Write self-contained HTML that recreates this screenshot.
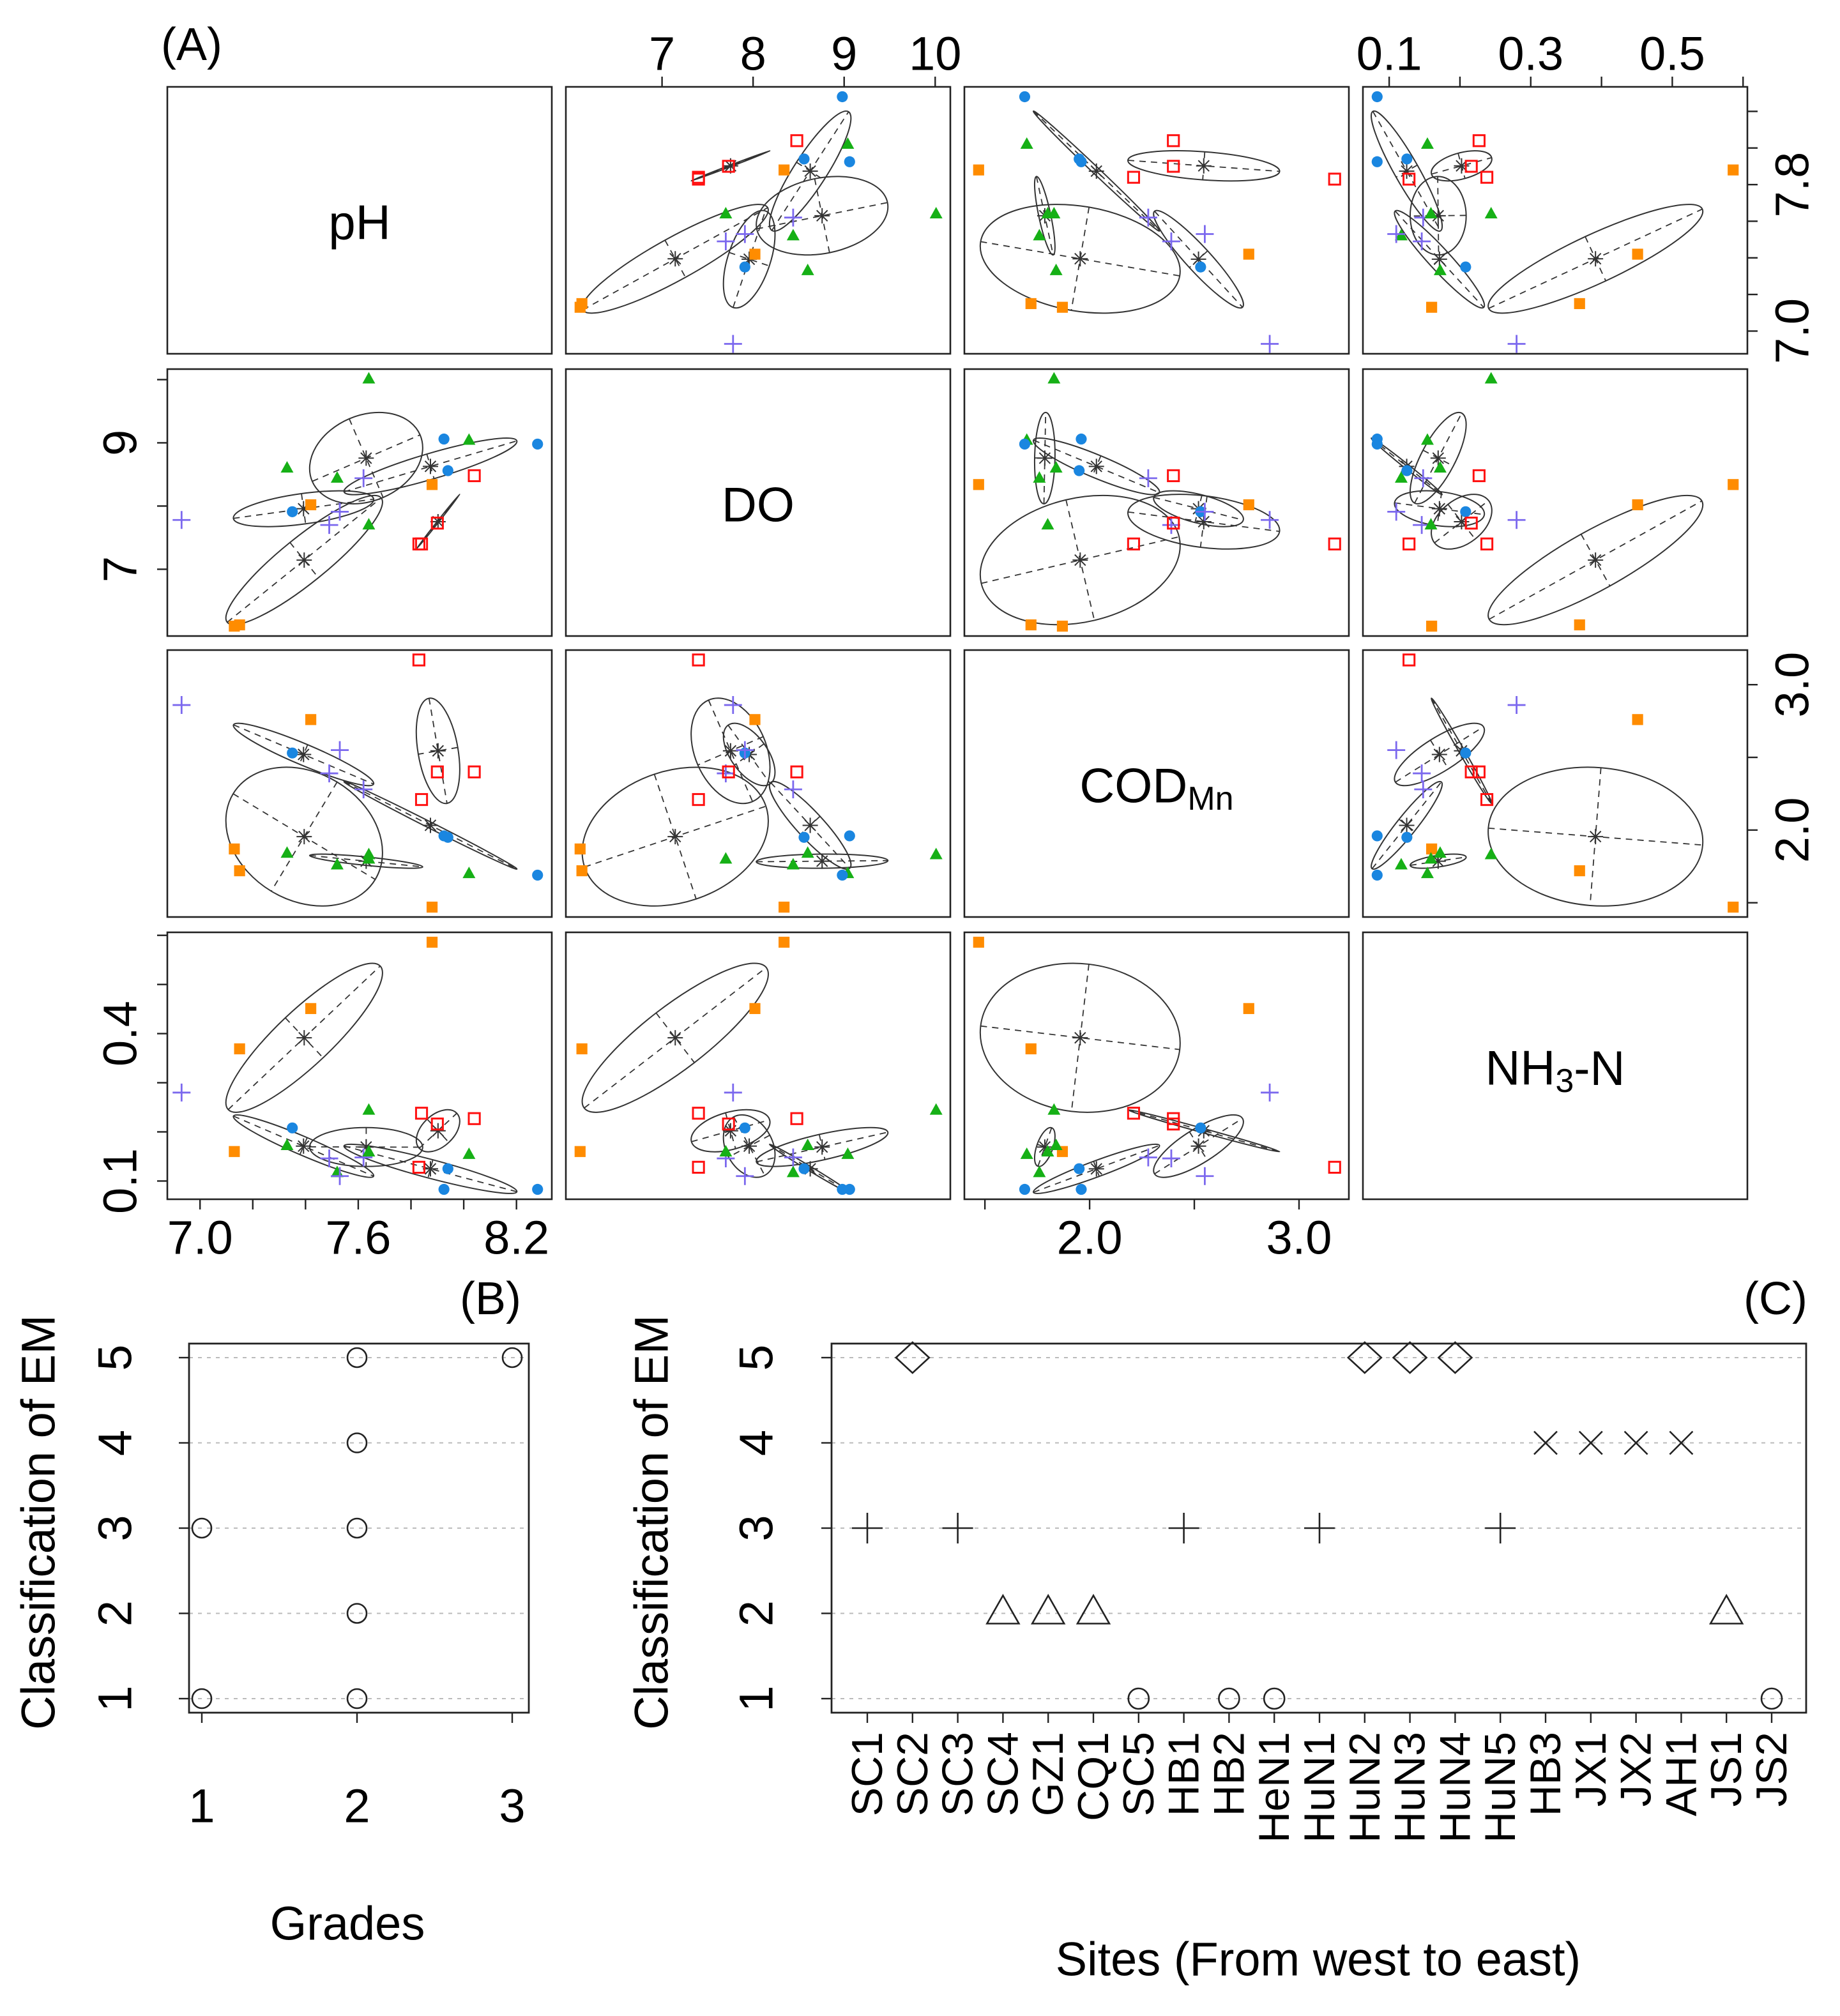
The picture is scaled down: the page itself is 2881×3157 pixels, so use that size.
<!DOCTYPE html>
<html><head><meta charset="utf-8"><title>Water quality pairs plot with EM classification</title>
<style>
html,body{margin:0;padding:0;background:#fff;}
svg{display:block;font-family:"Liberation Sans",Arial,sans-serif;}
</style></head>
<body>
<svg id="fig" xmlns="http://www.w3.org/2000/svg" width="2881" height="3157" viewBox="0 0 1440.5 1578.5">
<rect x="0" y="0" width="1440.5" height="1578.5" fill="#fff"/>
<text x="150" y="35" font-size="36" text-anchor="middle" dominant-baseline="central">(A)</text>
<text x="384" y="1017" font-size="36" text-anchor="middle" dominant-baseline="central">(B)</text>
<text x="1390" y="1017" font-size="36" text-anchor="middle" dominant-baseline="central">(C)</text>
</svg>
<script>
// ---- Panel A data (21 sites) ----
const phVals  = [6.93,7.13,7.15,7.33,7.35,7.42,7.49,7.52,7.53,7.62,7.64,7.64,7.83,7.84,7.88,7.90,7.925,7.94,8.02,8.04,8.28];
const doVals  = [7.78,6.10,6.12,8.60,7.91,8.02,7.70,8.44,7.91,8.44,10.01,7.70,7.40,7.40,8.34,7.73,9.06,8.56,9.04,8.48,8.98];
const codVals = [2.86,1.87,1.72,1.84,2.53,2.76,2.39,1.76,2.55,2.28,1.83,1.80,3.17,2.21,1.47,2.40,1.96,1.95,1.70,2.40,1.69];
const nh3Vals = [0.280,0.160,0.369,0.172,0.208,0.451,0.146,0.117,0.110,0.148,0.244,0.159,0.128,0.238,0.586,0.216,0.083,0.125,0.154,0.227,0.083];
const siteGroups = ['purple','orange','orange','green','blue','orange','purple','green','purple','purple','green','green','red','red','orange','red','blue','blue','green','red','blue'];
const phTicks = [7.0,7.2,7.4,7.6,7.8,8.0,8.2];
const doTicks = [7,8,9,10];
const codTicks = [1.5,2.0,2.5,3.0];
const nh3Ticks = [0.1,0.2,0.3,0.4,0.5,0.6];
const phOuterLabels = [7.0,7.6,8.2];
const phSideLabels = [7.0,7.8];
const doOuterLabels = [7,8,9,10];
const doSideLabels = [7,9];
const codOuterLabels = [2.0,3.0];
const codSideLabels = [2.0,3.0];
const nh3OuterLabels = [0.1,0.3,0.5];
const nh3SideLabels = [0.1,0.4];
// ---- Panel B data ----
const gradeVals = [1,1,2,2,2,2,2,3];
const gradeClassVals = [3,1,5,4,3,2,1,5];
const gradeTicks = [1,2,3];
const classTicks = [1,2,3,4,5];
// ---- Panel C data ----
const siteNames = ['SC1','SC2','SC3','SC4','GZ1','CQ1','SC5','HB1','HB2','HeN1','HuN1','HuN2','HuN3','HuN4','HuN5','HB3','JX1','JX2','AH1','JS1','JS2'];
const siteClassVals = [3,5,3,2,2,2,1,3,1,1,3,5,5,5,3,4,4,4,4,2,1];

const NS='http://www.w3.org/2000/svg';
const svg=document.getElementById('fig');
function add(parent,tag,attrs){const e=document.createElementNS(NS,tag);for(const k in attrs)e.setAttribute(k,attrs[k]);parent.appendChild(e);return e;}

const colors={blue:'#1a86e0',green:'#16b016',purple:'#7b68ee',red:'#ff1010',orange:'#ff8c00'};
const vars=[
 {vals:phVals,ticks:phTicks,outer:phOuterLabels,side:phSideLabels,fmt:v=>v.toFixed(1),name:'ph'},
 {vals:doVals,ticks:doTicks,outer:doOuterLabels,side:doSideLabels,fmt:v=>String(v),name:'do'},
 {vals:codVals,ticks:codTicks,outer:codOuterLabels,side:codSideLabels,fmt:v=>v.toFixed(1),name:'cod'},
 {vals:nh3Vals,ticks:nh3Ticks,outer:nh3OuterLabels,side:nh3SideLabels,fmt:v=>v.toFixed(1),name:'nh3'}
];
vars.forEach(v=>{const mn=Math.min(...v.vals),mx=Math.max(...v.vals),s=mx-mn;v.lo=mn-0.04*s;v.hi=mx+0.04*s;});
const colX=[131,443,755,1067], rowY=[68,289,509,730], PW=301, PH=209;
function sx(vi,c,val){const v=vars[vi];return colX[c]+(val-v.lo)/(v.hi-v.lo)*PW;}
function sy(vi,r,val){const v=vars[vi];return rowY[r]+PH-(val-v.lo)/(v.hi-v.lo)*PH;}

const defs=add(svg,'defs',{});
const mat=add(svg,'g',{});



function marker(g,grp,x,y){
  const col=colors[grp];let e;
  if(grp==='blue'){e=add(g,'circle',{cx:x,cy:y,r:4.3,fill:col});}
  else if(grp==='green'){e=add(g,'path',{d:`M${x} ${y-5.5}L${x+5} ${y+3.5}L${x-5} ${y+3.5}Z`,fill:col});}
  else if(grp==='purple'){e=add(g,'path',{d:`M${x-7} ${y}H${x+7}M${x} ${y-7}V${y+7}`,stroke:col,'stroke-width':1.4,fill:'none'});}
  else if(grp==='red'){e=add(g,'rect',{x:x-4.3,y:y-4.3,width:8.6,height:8.6,fill:'none',stroke:col,'stroke-width':1.5});}
  else {e=add(g,'rect',{x:x-4.3,y:y-4.3,width:8.6,height:8.6,fill:col});}
  
  
}

for(let r=0;r<4;r++){for(let c=0;c<4;c++){
  const g=add(mat,'g',{});
  
  
  const fr=add(g,'rect',{x:colX[c],y:rowY[r],width:PW,height:PH,fill:'none',stroke:'#222','stroke-width':1.3});
  
  
  if(r===c){
    const t=add(g,'text',{x:colX[c]+PW/2,y:rowY[r]+PH/2+2,'font-size':38,'text-anchor':'middle','dominant-baseline':'central'});
    
    
    if(r===0){t.textContent='pH';}
    else if(r===1){t.textContent='DO';}
    else if(r===2){t.innerHTML='COD<tspan font-size="26" dy="10">Mn</tspan>';}
    else {t.innerHTML='NH<tspan font-size="26" dy="10">3</tspan><tspan dy="-10">-N</tspan>';}
    continue;
  }
  const cid='clip'+r+c;
  const cp=add(defs,'clipPath',{id:cid});add(cp,'rect',{x:colX[c],y:rowY[r],width:PW,height:PH});
  const eg=add(g,'g',{'clip-path':`url(#${cid})`});
  Object.keys(colors).forEach(grp=>{
    const idx=siteGroups.map((s,i)=>s===grp?i:-1).filter(i=>i>=0);
    const px=idx.map(i=>sx(c,c,vars[c].vals[i])), py=idx.map(i=>sy(r,r,vars[r].vals[i]));
    const n=px.length;const mx=px.reduce((a,b)=>a+b)/n,my=py.reduce((a,b)=>a+b)/n;
    let a=0,b=0,d=0;for(let k=0;k<n;k++){a+=(px[k]-mx)**2;d+=(py[k]-my)**2;b+=(px[k]-mx)*(py[k]-my);}
    a/=(n-1);b/=(n-1);d/=(n-1);
    const tr=(a+d)/2,disc=Math.sqrt(((a-d)/2)**2+b*b);
    const l1=tr+disc,l2=Math.max(tr-disc,0.5);
    const ang=0.5*Math.atan2(2*b,a-d);
    const k=0.85,ra=k*Math.sqrt(l1),rb=k*Math.sqrt(l2);
    const deg=ang*180/Math.PI;
    const el=add(eg,'ellipse',{cx:mx,cy:my,rx:ra,ry:rb,transform:`rotate(${deg} ${mx} ${my})`,fill:'none',stroke:'#333','stroke-width':1});
    
    
    const ca=Math.cos(ang),sa=Math.sin(ang);
    const ax=add(eg,'path',{d:`M${mx-ra*ca} ${my-ra*sa}L${mx+ra*ca} ${my+ra*sa}M${mx+rb*sa} ${my-rb*ca}L${mx-rb*sa} ${my+rb*ca}`,stroke:'#333','stroke-width':0.9,'stroke-dasharray':'5,4',fill:'none'});
    
    
    let sd='';for(let q=0;q<4;q++){const t=q*Math.PI/4;sd+=`M${mx-6*Math.cos(t)} ${my-6*Math.sin(t)}L${mx+6*Math.cos(t)} ${my+6*Math.sin(t)}`;}
    const st=add(eg,'path',{d:sd,stroke:'#333','stroke-width':1});
    
    
  });
  const pg=add(g,'g',{'clip-path':`url(#${cid})`});
  for(let i=0;i<phVals.length;i++){marker(pg,siteGroups[i],sx(c,c,vars[c].vals[i]),sy(r,r,vars[r].vals[i]));}
}}

function axisX(c,top){
  const v=vars[c];const g=add(mat,'g',{});
  
  
  const y0=top?rowY[0]:rowY[3]+PH;const dir=top?-1:1;
  v.ticks.forEach(t=>{const x=sx(c,c,t);add(g,'line',{x1:x,x2:x,y1:y0,y2:y0+dir*8,stroke:'#222','stroke-width':1.2});});
  v.outer.forEach(t=>{const x=sx(c,c,t);const tx=add(g,'text',{x:x,y:top?y0-26:y0+30,'font-size':37,'text-anchor':'middle','dominant-baseline':'central'});tx.textContent=v.fmt(t);
    
    });
}
function axisY(r,left){
  const v=vars[r];const g=add(mat,'g',{});
  
  
  const x0=left?colX[0]:colX[3]+PW;const dir=left?-1:1;
  v.ticks.forEach(t=>{const y=sy(r,r,t);add(g,'line',{x1:x0,x2:x0+dir*8,y1:y,y2:y,stroke:'#222','stroke-width':1.2});});
  v.side.forEach(t=>{const y=sy(r,r,t);const xx=left?x0-37:x0+35;const tx=add(g,'text',{x:xx,y:y,'font-size':37,'text-anchor':'middle','dominant-baseline':'central',transform:`rotate(-90 ${xx} ${y})`});tx.textContent=v.fmt(t);
    
    });
}
axisX(1,true);axisX(3,true);axisX(0,false);axisX(2,false);
axisY(1,true);axisY(3,true);axisY(0,false);axisY(2,false);

// ---- Panel B ----
function classY(v){return 1330-(v-1)*66.75;}
function gradeX(v){return 158+(v-1)*121.5;}
const pb=add(svg,'g',{});


classTicks.forEach(t=>{const gl=add(pb,'line',{x1:148,x2:414,y1:classY(t),y2:classY(t),stroke:'#bbb','stroke-width':1,'stroke-dasharray':'3,4'});
  
  });
const fb=add(pb,'rect',{x:148,y:1052,width:266,height:289,fill:'none',stroke:'#222','stroke-width':1.4});


classTicks.forEach(t=>{const y=classY(t);add(pb,'line',{x1:148,x2:140,y1:y,y2:y,stroke:'#222','stroke-width':1.2});
  const tx=add(pb,'text',{x:90,y:y,'font-size':37,'text-anchor':'middle','dominant-baseline':'central',transform:`rotate(-90 90 ${y})`});tx.textContent=t;
  
  });
gradeTicks.forEach(t=>{const x=gradeX(t);add(pb,'line',{x1:x,x2:x,y1:1341,y2:1349,stroke:'#222','stroke-width':1.2});
  const tx=add(pb,'text',{x:x,y:1414,'font-size':37,'text-anchor':'middle','dominant-baseline':'central'});tx.textContent=t;
  
  });
for(let i=0;i<gradeVals.length;i++){const c=add(pb,'circle',{cx:gradeX(gradeVals[i]),cy:classY(gradeClassVals[i]),r:7.5,fill:'none',stroke:'#222','stroke-width':1.3});
  
  }
let t1=add(pb,'text',{x:30,y:1192,'font-size':37,'text-anchor':'middle','dominant-baseline':'central',transform:'rotate(-90 30 1192)'});t1.textContent='Classification of EM';


let t2=add(pb,'text',{x:272,y:1506,'font-size':37,'text-anchor':'middle','dominant-baseline':'central'});t2.textContent='Grades';



// ---- Panel C ----
function siteX(i){return 679+i*35.4;}
const pc=add(svg,'g',{});


classTicks.forEach(t=>{const gl=add(pc,'line',{x1:651,x2:1414,y1:classY(t),y2:classY(t),stroke:'#bbb','stroke-width':1,'stroke-dasharray':'3,4'});
  
  });
const fc=add(pc,'rect',{x:651,y:1052,width:763,height:289,fill:'none',stroke:'#222','stroke-width':1.4});


classTicks.forEach(t=>{const y=classY(t);add(pc,'line',{x1:651,x2:643,y1:y,y2:y,stroke:'#222','stroke-width':1.2});
  const tx=add(pc,'text',{x:592,y:y,'font-size':37,'text-anchor':'middle','dominant-baseline':'central',transform:`rotate(-90 592 ${y})`});tx.textContent=t;
  
  });
siteNames.forEach((s,i)=>{const x=siteX(i);add(pc,'line',{x1:x,x2:x,y1:1341,y2:1349,stroke:'#222','stroke-width':1.2});
  const tx=add(pc,'text',{x:x,y:1356,'font-size':34,'text-anchor':'end','dominant-baseline':'central',transform:`rotate(-90 ${x} 1356)`});tx.textContent=s;
  
  });
siteClassVals.forEach((cl,i)=>{const x=siteX(i),y=classY(cl);let e;
  if(cl===1)e=add(pc,'circle',{cx:x,cy:y,r:8,fill:'none',stroke:'#222','stroke-width':1.3});
  else if(cl===2)e=add(pc,'path',{d:`M${x} ${y-14}L${x+12.5} ${y+8}L${x-12.5} ${y+8}Z`,fill:'none',stroke:'#222','stroke-width':1.3});
  else if(cl===3)e=add(pc,'path',{d:`M${x-12} ${y}H${x+12}M${x} ${y-12}V${y+12}`,fill:'none',stroke:'#222','stroke-width':1.3});
  else if(cl===4)e=add(pc,'path',{d:`M${x-9} ${y-9}L${x+9} ${y+9}M${x+9} ${y-9}L${x-9} ${y+9}`,fill:'none',stroke:'#222','stroke-width':1.3});
  else e=add(pc,'path',{d:`M${x} ${y-12}L${x+13} ${y}L${x} ${y+12}L${x-13} ${y}Z`,fill:'none',stroke:'#222','stroke-width':1.3});
  
  });
let t3=add(pc,'text',{x:510,y:1192,'font-size':37,'text-anchor':'middle','dominant-baseline':'central',transform:'rotate(-90 510 1192)'});t3.textContent='Classification of EM';


let t4=add(pc,'text',{x:1032,y:1534,'font-size':37,'text-anchor':'middle','dominant-baseline':'central'});t4.textContent='Sites (From west to east)';


</script>
</body></html>
